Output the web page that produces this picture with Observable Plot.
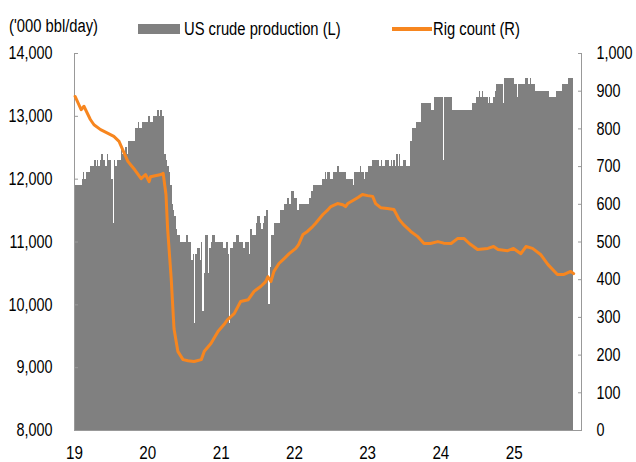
<!DOCTYPE html>
<html><head><meta charset="utf-8">
<script src="https://cdn.jsdelivr.net/npm/d3@7"></script>
<script src="https://cdn.jsdelivr.net/npm/@observablehq/plot@0.6"></script>
<style>
body{margin:0;background:#fff;}
#wrap{position:relative;width:636px;height:462px;font-family:"Liberation Sans Narrow","Arial Narrow","Liberation Sans",Arial,sans-serif;color:#000;}
#legend{position:relative;height:40px;font-size:18px;line-height:20px;}
#legend span{position:absolute;white-space:nowrap;transform:scaleX(0.82);transform-origin:0 0;}
#legend i{position:absolute;display:block;}
svg{display:block;}
</style>
</head><body>
<div id="wrap">
  <div id="legend">
    <span style="left:9px;top:16px;">('000 bbl/day)</span>
    <i style="left:138px;top:24px;width:42px;height:10px;background:#808080;"></i>
    <span style="left:184px;top:19px;">US crude production (L)</span>
    <i style="left:392px;top:27px;width:40px;height:4px;background:#f7861f;"></i>
    <span style="left:433px;top:19px;">Rig count (R)</span>
  </div>
  <div id="chart"></div>
</div>
<script>
// Weekly US crude production, '000 bbl/day (week ending Fridays, first = 2019-01-04)
const prod2019 = [11700,11900,11900,11900,11900, 11900,12000,12100,12000, 12100,12100,12100,12200, 12200,12200,12300,12200,12300, 12200,12300,12400,12300, 12300,12200,12400,12300, 12300,12000,11300,12300, 12200,12300,12300,12300,12500, 12400,12400,12500,12400, 12600,12600,12600,12600, 12600,12800,12800,12900,12800, 12800,12900,12900,12900];
const prod2020 = [12900,13000,13000,12900,12900, 13000,13000,13000,13100, 13000,13100,13000,13000, 12400,12300,12200,12100, 11900,11600,11500,11400,11200, 11100,11100,11000,11000, 11000,11000,11100,11100,11000, 11000,10700,10800,9700, 10800,10900,10900,10700, 11000,9900,10500,11100,11100, 10500,10900,11000,11100, 11100,11000,11000,11000];
const prod2021 = [11000,11000,11000,10900,10900, 11000,10800,9700,10900, 10900,11000,11000,11100, 11100,11000,11000,11000,10900, 11000,11000,11000,10800, 11200,11100,11100,11100, 11300,11400,11400,11300,11200, 11300,11400,11500,11500, 10000,10600,11100,11100, 11300,11300,11300,11300,11500, 11500,11500,11600,11600, 11700,11700,11600,11800,11800];
const prod2022 = [11700,11700,11500,11500, 11600,11600,11600,11600, 11600,11600,11600,11700, 11800,11800,11900,11900,11900, 11900,11900,11900,12000, 12000,12100,12000,12100, 12100,12000,12000,12100,12100, 12100,12200,12100,12100, 12100,12100,12100,12000,12000, 12000,12000,12000,11900, 12100,12100,12100,12100, 12200,12100,12100,12000,12100];
const prod2023 = [12100,12200,12200,12200, 12300,12300,12300,12300, 12300,12200,12300,12200,12200, 12300,12300,12300,12200, 12300,12200,12300,12200, 12400,12200,12400,12200,12200, 12300,12300,12200,12200, 12200,12600,12800,12800, 12800,12900,12900,12900,12900, 13200,13200,13200,13200, 13200,13200,13200,13100, 13100,13300,13300,13300,13300];
const prod2024 = [13300,13300,12300,13300, 13300,13300,13300,13300, 13300,13100,13100,13100,13100, 13100,13100,13100,13100, 13100,13100,13100,13100,13100, 13100,13200,13200,13200, 13300,13300,13400,13300, 13400,13300,13300,13300,13200, 13300,13200,13200,13300, 13400,13500,13500,13500, 13500,13500,13200,13600,13600, 13600,13600,13600,13600];
const prod2025 = [13600,13500,13500,13300,13500, 13500,13500,13500,13500, 13600,13600,13500,13600, 13500,13500,13500,13400, 13400,13400,13400,13400,13400, 13400,13400,13400,13400, 13300,13300,13300,13300, 13300,13400,13400,13400,13400, 13500,13500,13500,13500, 13600,13600,13600,13600];
const firstWeek = "2019-01-04";

// Oil rig count (right axis)
const rigDates = ["2019-01-04","2019-02-03","2019-02-17","2019-03-21","2019-04-08","2019-05-11","2019-06-17","2019-07-16","2019-08-11","2019-08-29","2019-09-24","2019-10-23","2019-11-29","2019-12-21",
"2020-01-08","2020-01-15","2020-03-07","2020-03-18","2020-04-01","2020-04-09","2020-04-27","2020-05-11","2020-05-30","2020-06-25","2020-07-20","2020-08-19","2020-09-24","2020-10-09","2020-11-11","2020-12-17",
"2021-01-15","2021-02-02","2021-03-07","2021-04-08","2021-05-16","2021-06-14","2021-07-17","2021-08-11","2021-08-22","2021-09-06","2021-09-21","2021-10-16","2021-11-11","2021-12-06",
"2022-01-08","2022-01-22","2022-02-13","2022-03-07","2022-04-02","2022-04-16","2022-05-23","2022-06-18","2022-07-02","2022-08-04","2022-08-30","2022-09-13","2022-09-24","2022-10-20","2022-11-14","2022-12-06",
"2023-01-01","2023-01-26","2023-02-10","2023-03-07","2023-04-09","2023-05-12","2023-06-07","2023-06-29","2023-08-04","2023-09-06","2023-10-09","2023-11-10","2023-12-17",
"2024-01-15","2024-02-21","2024-03-24","2024-04-26","2024-05-22","2024-07-02","2024-08-22","2024-09-20","2024-10-12","2024-11-29","2024-12-28",
"2025-02-03","2025-02-28","2025-04-02","2025-05-12","2025-06-18","2025-08-04","2025-09-06","2025-10-09","2025-10-24"];
const rigValues = [886,851,860,825,811,798,788,780,767,745,714,695,668,679,
660,673,679,682,626,536,403,270,210,188,185,183,188,210,231,263,
281,294,310,342,347,369,382,395,408,395,422,443,456,469,
483,493,520,528,541,549,573,586,594,602,599,594,602,610,618,626,
623,621,602,591,589,586,560,546,528,515,496,496,501,
497,496,509,509,496,480,483,488,480,477,483,
469,488,483,467,440,414,414,422,416];

const leftTicks = [8000,9000,10000,11000,12000,13000,14000];
const rightTicks = [0,100,200,300,400,500,600,700,800,900,1000];
const yearTicks = ["2019-01-01","2020-01-01","2021-01-01","2022-01-01","2023-01-01","2024-01-01","2025-01-01"];
const yearLabels = ["19","20","21","22","23","24","25"];
const xDomain = ["2019-01-01","2025-12-02"];
const yDomain = [8000,14000];
const rigDomain = [0,1000];

// build tables
const allProd = [...prod2019, ...prod2020, ...prod2021, ...prod2022, ...prod2023, ...prod2024, ...prod2025];
const w0 = new Date(firstWeek + "T00:00:00Z");
const prodData = allProd.map((v, i) => ({end: d3.utcDay.offset(w0, 7 * i), v}));
const k = (yDomain[1] - yDomain[0]) / (rigDomain[1] - rigDomain[0]);
const toLeft = r => yDomain[0] + (r - rigDomain[0]) * k;
const rigData = rigDates.map((d, i) => ({date: new Date(d + "T00:00:00Z"), r: rigValues[i]}));
const yt = yearTicks.map(d => new Date(d + "T00:00:00Z"));
const xd = xDomain.map(d => new Date(d + "T00:00:00Z"));

const axisColor = "#999";
const plot = Plot.plot({
  width: 636,
  height: 422,
  marginTop: 13,
  marginBottom: 32,
  marginLeft: 74,
  marginRight: 55,
  style: {fontFamily: '"Liberation Sans Narrow","Arial Narrow","Liberation Sans",Arial,sans-serif', fontSize: "18px", color: "#000", background: "#fff", overflow: "visible"},
  x: {type: "utc", domain: xd},
  y: {domain: yDomain},
  marks: [
    Plot.ruleY([yDomain[0]], {stroke: axisColor}),
    Plot.rectY(prodData, {x1: d => d3.utcDay.offset(d.end, -7), x2: d => d.end, y1: () => yDomain[0], y2: "v", fill: "#808080", shapeRendering: "crispEdges", clip: true}),
    Plot.ruleX(xd, {stroke: axisColor}),
    Plot.lineY(rigData, {x: "date", y: d => toLeft(d.r), stroke: "#f7861f", strokeWidth: 3, strokeLinejoin: "round"}),
    Plot.axisY(leftTicks, {anchor: "left", tickSize: -4, tickPadding: 26, stroke: axisColor, tickFormat: d3.format(","), fontSize: 18, label: null}),
    Plot.axisY(rightTicks.map(toLeft), {anchor: "right", tickSize: -4, tickPadding: 19, stroke: axisColor, tickFormat: v => d3.format(",")(Math.round((v - yDomain[0]) / k)), fontSize: 18, label: null}),
    Plot.axisX(yt, {anchor: "bottom", tickSize: 0, tickPadding: 15, tickFormat: (d, i) => yearLabels[i], fontSize: 19, label: null})
  ]
});
document.getElementById("chart").appendChild(plot);
// condense the axis text to mimic a narrow typeface (scale about each label's anchor point)
plot.querySelectorAll("text").forEach(t => {
  const tr = t.getAttribute("transform");
  const hasX = t.hasAttribute("x") && +t.getAttribute("x") !== 0;
  if (tr && /translate/.test(tr) && !hasX) {
    t.setAttribute("transform", tr + " scale(0.8,1)");
  } else {
    const len = t.getComputedTextLength();
    if (len > 0) {
      t.setAttribute("textLength", (len * 0.8).toFixed(2));
      t.setAttribute("lengthAdjust", "spacingAndGlyphs");
    }
  }
});
</script>
</body></html>
